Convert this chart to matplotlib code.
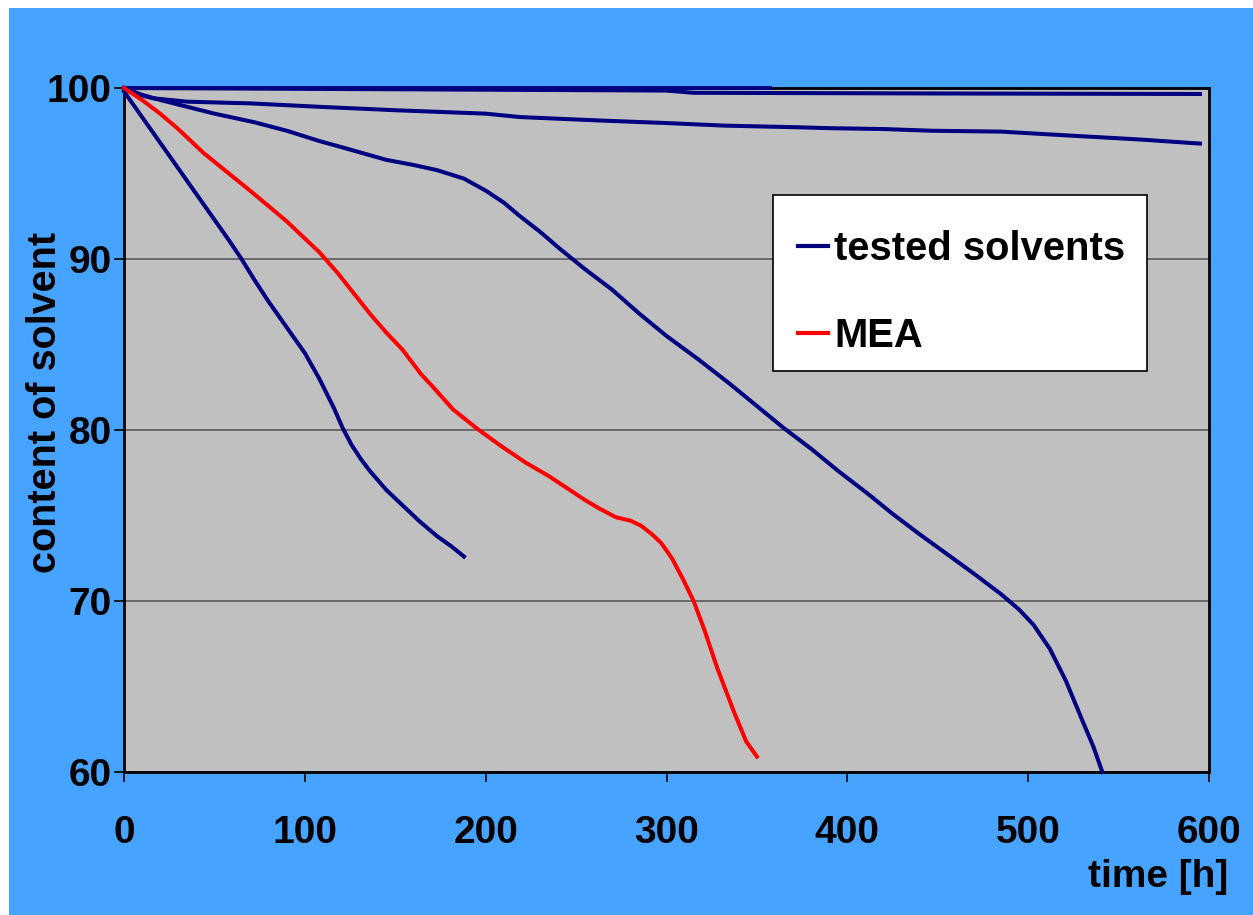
import matplotlib.pyplot as plt
from matplotlib.patches import Rectangle

plt.rcParams['font.family'] = ['Liberation Sans', 'DejaVu Sans']
plt.rcParams['font.weight'] = 'bold'

# solvent A: stays at 100
a_t = [0, 100, 200, 300, 357]
a_y = [100, 100, 100, 100, 100]

# solvent B: nearly flat, just under 100
b_t = [0, 100, 200, 300, 315, 450, 595]
b_y = [100, 99.95, 99.9, 99.85, 99.72, 99.68, 99.65]

# solvent C: slow decline
c_t = [0, 5, 16, 35, 70, 108, 150, 200, 219, 263, 300, 332, 374, 390, 420, 447, 485, 526, 560, 595]
c_y = [100, 99.7, 99.4, 99.2, 99.1, 98.9, 98.7, 98.5, 98.3, 98.1, 97.95, 97.8, 97.7, 97.65, 97.6, 97.5,
       97.45, 97.2, 97.0, 96.75]

# solvent D: breaks down around 500 h
d_t = [0, 10, 20, 35, 50, 72, 90, 108, 125, 145, 160, 173, 188, 200, 210, 219, 230, 241, 255, 270,
       285, 300, 318, 335, 350, 365, 380, 395, 411, 425, 440, 457, 470, 485, 495, 503, 512, 521, 530,
       536, 541]
d_y = [100, 99.6, 99.3, 98.9, 98.5, 98.0, 97.5, 96.9, 96.4, 95.8, 95.5, 95.2, 94.7, 94.0, 93.3, 92.5,
       91.6, 90.6, 89.4, 88.2, 86.8, 85.5, 84.1, 82.7, 81.4, 80.1, 78.9, 77.6, 76.3, 75.1, 73.9, 72.6,
       71.6, 70.4, 69.5, 68.6, 67.2, 65.3, 63.0, 61.5, 60.0]

# solvent E: fast decline, stops at 188 h
e_t = [0, 10, 20, 30, 40, 50, 58, 65, 72, 80, 90, 100, 108, 116, 121, 126, 131, 136, 145, 154, 163,
       173, 181, 188]
e_y = [99.8, 98.3, 96.8, 95.3, 93.8, 92.3, 91.1, 90.0, 88.8, 87.5, 86.0, 84.5, 83.0, 81.3, 80.1, 79.1,
       78.3, 77.6, 76.5, 75.6, 74.7, 73.8, 73.2, 72.6]

# MEA reference
mea_t = [0, 10, 20, 30, 44, 58, 72, 90, 100, 108, 118, 127, 136, 145, 154, 164, 171, 182, 195, 208,
         222, 235, 245, 255, 263, 272, 280, 286, 292, 297, 303, 309, 315, 321, 328, 337, 344, 350]
mea_y = [100, 99.3, 98.5, 97.6, 96.2, 95.0, 93.8, 92.2, 91.2, 90.4, 89.2, 88.0, 86.8, 85.7, 84.7, 83.3,
         82.5, 81.2, 80.1, 79.1, 78.1, 77.3, 76.6, 75.9, 75.4, 74.9, 74.7, 74.4, 73.9, 73.4, 72.5, 71.3,
         70.0, 68.3, 66.1, 63.6, 61.8, 60.9]

x_ticks = [0, 100, 200, 300, 400, 500, 600]
y_ticks = [60, 70, 80, 90, 100]

navy = '#000080'
blue_bg = '#46a3ff'

fig = plt.figure(figsize=(12.53, 9.15), dpi=100, facecolor='white')
fig.patches.append(Rectangle((9 / 1253, 0), 1 - 9 / 1253, 1 - 8 / 915, transform=fig.transFigure,
                             facecolor=blue_bg, edgecolor='none', zorder=-10))

ax = fig.add_axes([124 / 1253, 1 - 772 / 915, 1085 / 1253, 684 / 915])
ax.set_facecolor('#c0c0c0')

lw = 2.9
for t, y in [(a_t, a_y), (b_t, b_y), (c_t, c_y), (d_t, d_y), (e_t, e_y)]:
    ax.plot(t, y, color=navy, lw=lw, zorder=3, clip_on=False)
ax.plot(mea_t, mea_y, color='red', lw=lw, zorder=3, clip_on=False)

ax.set_xlim(0, 600)
ax.set_ylim(60, 100)
ax.set_xticks(x_ticks)
ax.set_yticks(y_ticks)
ax.yaxis.grid(True, color='#5a5a5a', lw=1.2)
ax.set_axisbelow(True)
for s in ax.spines.values():
    s.set_color('black')
    s.set_linewidth(2)
ax.tick_params(axis='x', direction='out', length=7, width=1.2, pad=24, labelsize=28)
ax.tick_params(axis='y', direction='out', length=7, width=1.2, pad=2, labelsize=28)
for lab in ax.get_xticklabels() + ax.get_yticklabels():
    lab.set_fontweight('bold')

fig.text(45 / 1253, 1 - 402 / 915, 'content of solvent', rotation=90, ha='center', va='center',
         fontsize=28.5, fontweight='bold')
fig.text(1228 / 1253, 1 - 877 / 915, 'time [h]', ha='right', va='center', fontsize=28, fontweight='bold')

# legend box drawn separately so the padding can match
bx0, bx1 = (773 - 124) / 1085, (1147 - 124) / 1085
by0, by1 = (772 - 371) / 684, (772 - 195) / 684
ax.add_patch(Rectangle((bx0, by0), bx1 - bx0, by1 - by0, transform=ax.transAxes, facecolor='white',
                       edgecolor='black', lw=1.2, zorder=5))

h1, = ax.plot([], [], color=navy, lw=3)
h2, = ax.plot([], [], color='red', lw=3)
leg = ax.legend([h1, h2], ['tested solvents', 'MEA'], loc='center left',
                bbox_to_anchor=((798 - 124) / 1085, (772 - 292.5) / 684), prop={'size': 28.8, 'weight': 'bold'},
                frameon=False, handlelength=0.75, handletextpad=0.16, labelspacing=1.24,
                borderpad=0, borderaxespad=0)
leg.set_zorder(6)

fig.savefig('out.png', dpi=100, facecolor='white')
